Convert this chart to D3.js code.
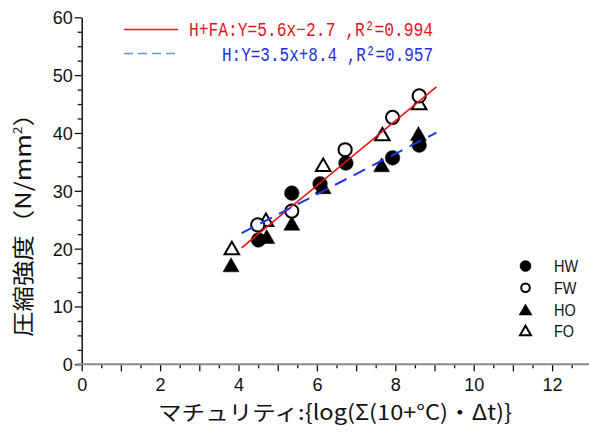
<!DOCTYPE html>
<html>
<head>
<meta charset="utf-8">
<script src="https://cdn.jsdelivr.net/npm/d3@7/dist/d3.min.js"></script>
<style>
  html, body { margin: 0; padding: 0; background: #fff; }
  svg { display: block; }
</style>
</head>
<body>
<svg id="chart" width="589" height="432"></svg>
<script>
// Compressive strength vs. maturity, four specimen groups
const seriesNames = ["HW", "FW", "HO", "FO"];
const hwMaturity = [4.51, 5.36, 6.08, 6.74, 7.93, 8.61];
const hwStrength = [21.5, 29.6, 31.2, 34.8, 35.7, 37.9];
const fwMaturity = [4.49, 5.36, 6.72, 7.93, 8.61];
const fwStrength = [24.1, 26.5, 37.1, 42.7, 46.4];
const hoMaturity = [3.81, 4.72, 5.36, 6.16, 7.65, 8.59];
const hoStrength = [17.2, 22.1, 24.4, 30.7, 34.5, 39.9];
const foMaturity = [3.83, 4.70, 6.16, 7.67, 8.61];
const foStrength = [20.1, 25.0, 34.5, 39.8, 45.2];

// Regression lines: Y = a x + b, with their legend strings
const fitNames = ["H+FA:Y=5.6x−2.7 ,R²=0.994", "H:Y=3.5x+8.4 ,R²=0.957"];
const fitSlopes = [5.6, 3.5];
const fitIntercepts = [-2.7, 8.4];
const fitRange = [4.08, 9.05];

const xLabelTicks = [0, 2, 4, 6, 8, 10, 12];
const yLabelTicks = [0, 10, 20, 30, 40, 50, 60];

const svg = d3.select("#chart");
const x = d3.scaleLinear().domain([0, 13]).range([81.7, 81.7 + 13 * 39.2]);
const y = d3.scaleLinear().domain([0, 60]).range([364.3, 17.3]);

// ---- axes ----
const yAxis = d3.axisLeft(y)
  .tickValues(d3.range(0, 60.01, 2.5))
  .tickSize(0)
  .tickFormat("");
const gy = svg.append("g").attr("transform", `translate(${x(0)},0)`).call(yAxis);
gy.select(".domain").attr("stroke", "#111").attr("stroke-width", 1.5);
gy.selectAll(".tick line")
  .attr("x2", d => (d % 10 === 0 ? -7 : -4))
  .attr("stroke", "#111").attr("stroke-width", 1.3);
gy.selectAll(".tick")
  .filter(d => yLabelTicks.includes(d))
  .append("text")
  .attr("x", -9).attr("dy", "0.36em")
  .attr("text-anchor", "end")
  .attr("fill", "#111")
  .style("font-family", "'Liberation Sans', Arial, sans-serif")
  .style("font-size", "18px")
  .text(d => d);

const xAxis = d3.axisBottom(x)
  .tickValues(d3.range(0, 12.51, 0.5))
  .tickSize(0)
  .tickFormat("");
const gx = svg.append("g").attr("transform", `translate(0,${y(0)})`).call(xAxis);
gx.select(".domain").remove();
gx.append("line")
  .attr("x1", x(0) - 6).attr("x2", 589)
  .attr("stroke", "#8a8a8a").attr("stroke-width", 2);
gx.selectAll(".tick line")
  .attr("y2", d => (d % 1 === 0 ? 7 : 4))
  .attr("stroke", "#111").attr("stroke-width", 1.3);
gx.selectAll(".tick")
  .filter(d => xLabelTicks.includes(d))
  .append("text")
  .attr("y", 27)
  .attr("text-anchor", "middle")
  .attr("fill", "#111")
  .style("font-family", "'Liberation Sans', Arial, sans-serif")
  .style("font-size", "18px")
  .text(d => d);

// ---- axis titles ----
svg.append("text")
  .attr("x", 335).attr("y", 420)
  .attr("text-anchor", "middle")
  .attr("fill", "#111")
  .attr("textLength", 354).attr("lengthAdjust", "spacingAndGlyphs")
  .style("font-family", "'Noto Sans CJK JP', sans-serif")
  .style("font-size", "21px")
  .text("マチュリティ:{log(Σ(10+°C)・Δt)}");

const yTitle = svg.append("text")
  .attr("transform", "translate(31,219) rotate(-90)")
  .attr("text-anchor", "middle")
  .attr("fill", "#111")
  .attr("textLength", 236).attr("lengthAdjust", "spacingAndGlyphs")
  .style("font-family", "'Noto Sans CJK JP', sans-serif")
  .style("font-size", "22px");
yTitle.append("tspan").text("圧縮強度（N/mm");
yTitle.append("tspan").attr("dy", -9).style("font-size", "12px").text("2");
yTitle.append("tspan").attr("dy", 9).text("）");

// ---- markers ----
function triPath(w, h) {
  return `M0,${-h / 2}L${w / 2},${h / 2}L${-w / 2},${h / 2}Z`;
}
const series = [
  { name: "FO", xs: foMaturity, ys: foStrength, shape: "tri", filled: false },
  { name: "HO", xs: hoMaturity, ys: hoStrength, shape: "tri", filled: true },
  { name: "FW", xs: fwMaturity, ys: fwStrength, shape: "circle", filled: false },
  { name: "HW", xs: hwMaturity, ys: hwStrength, shape: "circle", filled: true }
];
series.forEach(s => {
  const pts = s.xs.map((v, i) => [v, s.ys[i]]);
  const g = svg.append("g");
  if (s.shape === "circle") {
    g.selectAll("circle").data(pts).join("circle")
      .attr("cx", d => x(d[0])).attr("cy", d => y(d[1]))
      .attr("r", s.filled ? 7.3 : 6.6)
      .attr("fill", s.filled ? "#000" : "#fff")
      .attr("stroke", "#000").attr("stroke-width", s.filled ? 0.5 : 2);
  } else {
    g.selectAll("path").data(pts).join("path")
      .attr("transform", d => `translate(${x(d[0])},${y(d[1])})`)
      .attr("d", s.filled ? triPath(16, 14) : triPath(14.5, 12.5))
      .attr("fill", s.filled ? "#000" : "#fff")
      .attr("stroke", "#000").attr("stroke-width", s.filled ? 0.5 : 2)
      .attr("stroke-linejoin", "miter");
  }
});

// ---- regression lines ----
const fitColors = ["#ee1111", "#1f35e6"];
const fitDash = [null, "13,8"];
fitSlopes.forEach((a, i) => {
  const b = fitIntercepts[i];
  svg.append("line")
    .attr("x1", x(fitRange[0])).attr("y1", y(a * fitRange[0] + b))
    .attr("x2", x(fitRange[1])).attr("y2", y(a * fitRange[1] + b))
    .attr("stroke", fitColors[i])
    .attr("stroke-width", i === 0 ? 1.6 : 2)
    .attr("stroke-dasharray", fitDash[i]);
});

// ---- regression legend (top) ----
const legTop = [29.5, 53.5];
const legTextBase = [36, 61];
const legTextLeft = [189, 222];
const legSwatch = ["#ee1111", "#5d9bd8"];
const legText = ["#e8141c", "#1f2fe0"];
fitNames.forEach((t, i) => {
  svg.append("line")
    .attr("x1", 124).attr("x2", 178)
    .attr("y1", legTop[i]).attr("y2", legTop[i])
    .attr("stroke", legSwatch[i]).attr("stroke-width", 1.5)
    .attr("stroke-dasharray", i === 0 ? null : "9,5");
  svg.append("text")
    .attr("x", legTextLeft[i]).attr("y", legTextBase[i])
    .attr("fill", legText[i])
    .attr("textLength", 433 - legTextLeft[i]).attr("lengthAdjust", "spacingAndGlyphs")
    .style("font-family", "'Liberation Mono', 'DejaVu Sans Mono', monospace")
    .style("font-size", "20px")
    .text(t);
});

// ---- series legend (right) ----
const legendY = [266, 287.7, 309.5, 330.5];
const legendShapes = [
  { shape: "circle", filled: true },
  { shape: "circle", filled: false },
  { shape: "tri", filled: true },
  { shape: "tri", filled: false }
];
seriesNames.forEach((name, i) => {
  const sh = legendShapes[i];
  const cx = 525.5, cy = legendY[i];
  if (sh.shape === "circle") {
    svg.append("circle")
      .attr("cx", cx).attr("cy", cy)
      .attr("r", sh.filled ? 5.5 : 4.3)
      .attr("fill", sh.filled ? "#000" : "#fff")
      .attr("stroke", "#000").attr("stroke-width", sh.filled ? 0.5 : 2);
  } else {
    svg.append("path")
      .attr("transform", `translate(${cx},${cy})`)
      .attr("d", sh.filled ? triPath(13, 11) : triPath(11, 9.5))
      .attr("fill", sh.filled ? "#000" : "#fff")
      .attr("stroke", "#000").attr("stroke-width", sh.filled ? 0.5 : 2);
  }
  const t = svg.append("text")
    .attr("x", 554).attr("y", cy).attr("dy", "0.36em")
    .attr("fill", "#111")
    .style("font-family", "'Liberation Sans', Arial, sans-serif")
    .style("font-size", "17px")
    .text(name);
  const len = t.node().getComputedTextLength();
  t.attr("textLength", len * 0.85).attr("lengthAdjust", "spacingAndGlyphs");
});
</script>
</body>
</html>
